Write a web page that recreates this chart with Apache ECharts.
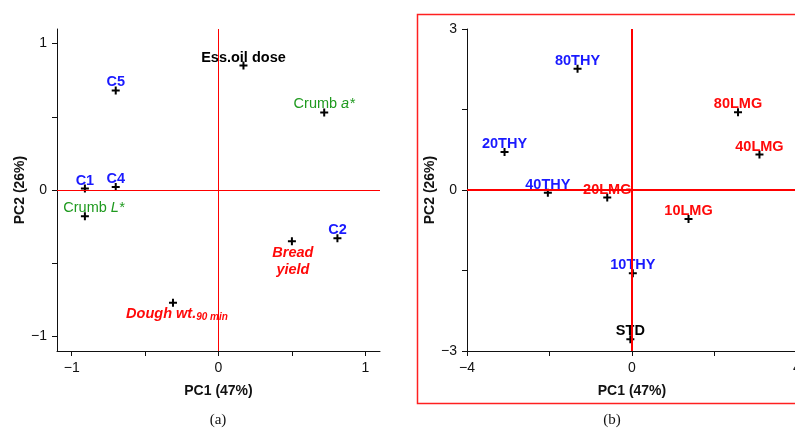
<!DOCTYPE html>
<html>
<head>
<meta charset="utf-8">
<script src="https://cdn.jsdelivr.net/npm/echarts@6/dist/echarts.min.js"></script>
<style>
html,body{margin:0;padding:0;background:#fff;}
#chart{width:795px;height:428px;}
</style>
</head>
<body>
<div id="chart"></div>
<script>
// ---- Panel (a): loadings ----
const leftNames = ['Ess.oil dose','C5','Crumb a*','C1','C4','Crumb L*','C2','Bread yield','Dough wt.90 min'];
const leftPC1   = [0.17,-0.70,0.72,-0.91,-0.70,-0.91,0.81,0.50,-0.31];
const leftPC2   = [0.85,0.68,0.53,0.01,0.02,-0.18,-0.33,-0.35,-0.77];
const leftKinds = ['black','blue','green','blue','blue','green','blue','red','red'];

// ---- Panel (b): scores ----
const rightNames = ['80THY','80LMG','20THY','40LMG','40THY','20LMG','10LMG','10THY','STD'];
const rightPC1   = [-1.32,2.57,-3.09,3.09,-2.04,-0.60,1.37,0.02,-0.04];
const rightPC2   = [2.26,1.45,0.71,0.66,-0.05,-0.14,-0.54,-1.55,-2.78];
const rightKinds = ['blue','red','blue','red','blue','red','red','blue','black'];

// ---- Axis ticks / labels ----
const leftTicks = [-1,-0.5,0,0.5,1];
const leftTickLabels = [-1,0,1];
const rightXTicks = [-4,-2,0,2,4];
const rightXTickLabels = [-4,0,4];
const rightYTicks = [-3,-1.5,0,1.5,3];
const rightYTickLabels = [-3,0,3];
const xTitle = 'PC1 (47%)';
const yTitle = 'PC2 (26%)';
const panelTags = ['(a)','(b)'];

// ---- styles (not data) ----
const colors = {black:'#000000', blue:'#1a1aff', green:'#1f9a1f', red:'#ff0a0a'};
const FONT = '"Liberation Sans", Arial, sans-serif';
const LFS = 14.5;
const labelOffsets = {'Crumb L*':[9,-8], 'Bread yield':[1,20], 'Dough wt.90 min':[4,11]};
const richMarkup = {
  'Crumb a*': '{n|Crumb }{i|a*}',
  'Crumb L*': '{n|Crumb }{i|L*}',
  'Bread yield': '{bi|Bread}\n{bi|yield}',
  'Dough wt.90 min': '{bi|Dough wt.}{sub|90 min}'
};

function fmtNum(v){ return v < 0 ? '\u2212' + Math.abs(v) : String(v); }

function buildData(names, xs, ys, kinds){
  return names.map((n,i)=>{
    const c = colors[kinds[i]];
    const rich = {
      n:{color:c, fontSize:LFS, fontFamily:FONT, lineHeight:17},
      i:{color:c, fontSize:LFS, fontFamily:FONT, fontStyle:'italic', lineHeight:17},
      bi:{color:c, fontSize:LFS, fontFamily:FONT, fontStyle:'italic', fontWeight:'bold', lineHeight:17},
      sub:{color:c, fontSize:10, fontFamily:FONT, fontStyle:'italic', fontWeight:'bold', lineHeight:17, verticalAlign:'bottom', padding:[5,0,0,0]}
    };
    return {
      name:n,
      value:[xs[i], ys[i]],
      label:{
        show:true,
        position:'inside',
        offset: labelOffsets[n] || [0,-8],
        color:c,
        fontSize:LFS,
        fontFamily:FONT,
        fontWeight: richMarkup[n] ? 'normal' : 'bold',
        formatter: richMarkup[n] || n,
        rich: rich
      }
    };
  });
}

const plusPath = 'path://M3,0h2v3h3v2h-3v3h-2v-3h-3v-2h3z';

function axisCommon(){
  return {
    axisLine:{show:true, onZero:false, lineStyle:{color:'#111', width:1}},
    splitLine:{show:false},
    nameTextStyle:{fontFamily:FONT, fontSize:14, fontWeight:'bold', color:'#111'},
    nameLocation:'middle'
  };
}

function zeroLines(width, color){
  return {
    silent:true,
    symbol:['none','none'],
    label:{show:false},
    lineStyle:{color:color, width:width, type:'solid', opacity:1},
    data:[{xAxis:0},{yAxis:0}],
    animation:false
  };
}

const chart = echarts.init(document.getElementById('chart'), null, {renderer:'canvas'});

const tickLabelStyle = {formatter:fmtNum, fontFamily:FONT, fontSize:14, color:'#111'};

const option = {
  animation:false,
  backgroundColor:'#ffffff',
  grid:[
    {left:57, right:415, top:29, bottom:77, outerBoundsMode:'none', containLabel:false},
    {left:467, right:-2, top:29, bottom:77, outerBoundsMode:'none', containLabel:false}
  ],
  xAxis:[
    Object.assign(axisCommon(), {
      gridIndex:0, type:'value', min:-1.1, max:1.1,
      name:xTitle, nameGap:33,
      axisTick:{show:true, length:5, customValues:leftTicks, lineStyle:{color:'#111'}},
      axisLabel:Object.assign({customValues:leftTickLabels, margin:10}, tickLabelStyle)
    }),
    Object.assign(axisCommon(), {
      gridIndex:1, type:'value', min:-4, max:4,
      name:xTitle, nameGap:33,
      axisTick:{show:true, length:5, customValues:rightXTicks, lineStyle:{color:'#111'}},
      axisLabel:Object.assign({customValues:rightXTickLabels, margin:10, hideOverlap:false}, tickLabelStyle)
    })
  ],
  yAxis:[
    Object.assign(axisCommon(), {
      gridIndex:0, type:'value', min:-1.1, max:1.1,
      name:yTitle, nameGap:30,
      axisTick:{show:true, length:5, customValues:leftTicks, lineStyle:{color:'#111'}},
      axisLabel:Object.assign({customValues:leftTickLabels, margin:10}, tickLabelStyle)
    }),
    Object.assign(axisCommon(), {
      gridIndex:1, type:'value', min:-3, max:3,
      name:yTitle, nameGap:30,
      axisTick:{show:true, length:5, customValues:rightYTicks, lineStyle:{color:'#111'}},
      axisLabel:Object.assign({customValues:rightYTickLabels, margin:10}, tickLabelStyle)
    })
  ],
  series:[
    {
      type:'scatter', xAxisIndex:0, yAxisIndex:0,
      symbol:plusPath, symbolSize:8,
      itemStyle:{color:'#000', opacity:1},
      emphasis:{disabled:true},
      data: buildData(leftNames, leftPC1, leftPC2, leftKinds),
      markLine: zeroLines(1, '#ff0000'),
      z:3
    },
    {
      type:'scatter', xAxisIndex:1, yAxisIndex:1,
      symbol:plusPath, symbolSize:8,
      itemStyle:{color:'#000', opacity:1},
      emphasis:{disabled:true},
      data: buildData(rightNames, rightPC1, rightPC2, rightKinds),
      markLine: zeroLines(2, '#ff0000'),
      z:3
    }
  ],
  graphic:[
    {type:'rect', shape:{x:417.5, y:14.5, width:400, height:389}, style:{fill:'none', stroke:'#ff2020', lineWidth:1.5}, z:0, silent:true},
    {type:'text', x:218, y:420, style:{text:panelTags[0], font:'15px "Liberation Serif", serif', fill:'#111', textAlign:'center', textVerticalAlign:'middle'}},
    {type:'text', x:612, y:420, style:{text:panelTags[1], font:'15px "Liberation Serif", serif', fill:'#111', textAlign:'center', textVerticalAlign:'middle'}}
  ]
};
chart.setOption(option);
</script>
</body>
</html>
